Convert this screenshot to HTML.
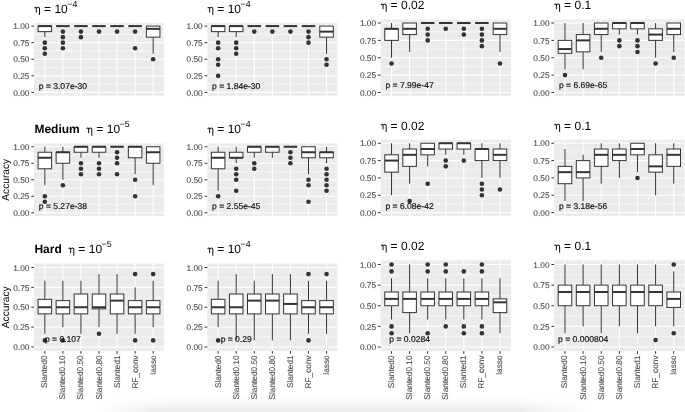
<!DOCTYPE html>
<html><head><meta charset="utf-8"><style>
html,body{margin:0;padding:0;background:#fff;}
body{width:685px;height:412px;overflow:hidden;position:relative;}
svg{display:block;position:absolute;left:0;top:0;will-change:transform;}
text{font-family:"Liberation Sans",sans-serif;text-rendering:geometricPrecision;}
.ax{font-size:8.3px;fill:#4D4D4D;stroke:#4D4D4D;stroke-width:0.12px;}
.pt{font-size:8.55px;fill:#111;stroke:#111;stroke-width:0.18px;}
.tt{font-size:12.0px;fill:#000;}
.tt.b{font-weight:bold;}
.tt.sup{font-size:8.8px;}
.yt{font-size:10.2px;fill:#000;}
.shade{position:absolute;left:0;top:396px;width:685px;height:16px;background:linear-gradient(to bottom, rgba(0,0,0,0) 0px, rgba(0,0,0,0.012) 4px, rgba(0,0,0,0.035) 8px, rgba(0,0,0,0.062) 12px, rgba(0,0,0,0.08) 14.5px, rgba(0,0,0,0.065) 16px);-webkit-mask-image:linear-gradient(to right, transparent 95px, #000 165px, #000 515px, transparent 595px);mask-image:linear-gradient(to right, transparent 95px, #000 165px, #000 515px, transparent 595px);}
</style></head><body>
<svg width="685" height="412" viewBox="0 0 685 412">
<rect x="34" y="22.78" width="130" height="72.93" fill="#EBEBEB"/>
<line x1="34" x2="164" y1="84.11" y2="84.11" stroke="#fff" stroke-width="0.55"/>
<line x1="34" x2="164" y1="67.54" y2="67.54" stroke="#fff" stroke-width="0.55"/>
<line x1="34" x2="164" y1="50.96" y2="50.96" stroke="#fff" stroke-width="0.55"/>
<line x1="34" x2="164" y1="34.39" y2="34.39" stroke="#fff" stroke-width="0.55"/>
<line x1="34" x2="164" y1="92.4" y2="92.4" stroke="#fff" stroke-width="1.1"/>
<line x1="34" x2="164" y1="75.83" y2="75.83" stroke="#fff" stroke-width="1.1"/>
<line x1="34" x2="164" y1="59.25" y2="59.25" stroke="#fff" stroke-width="1.1"/>
<line x1="34" x2="164" y1="42.67" y2="42.67" stroke="#fff" stroke-width="1.1"/>
<line x1="34" x2="164" y1="26.1" y2="26.1" stroke="#fff" stroke-width="1.1"/>
<line x1="44.83" x2="44.83" y1="22.78" y2="95.72" stroke="#fff" stroke-width="1.1"/>
<line x1="62.89" x2="62.89" y1="22.78" y2="95.72" stroke="#fff" stroke-width="1.1"/>
<line x1="80.94" x2="80.94" y1="22.78" y2="95.72" stroke="#fff" stroke-width="1.1"/>
<line x1="99" x2="99" y1="22.78" y2="95.72" stroke="#fff" stroke-width="1.1"/>
<line x1="117.06" x2="117.06" y1="22.78" y2="95.72" stroke="#fff" stroke-width="1.1"/>
<line x1="135.11" x2="135.11" y1="22.78" y2="95.72" stroke="#fff" stroke-width="1.1"/>
<line x1="153.17" x2="153.17" y1="22.78" y2="95.72" stroke="#fff" stroke-width="1.1"/>
<line x1="31.3" x2="34" y1="92.4" y2="92.4" stroke="#333333" stroke-width="1"/>
<text x="29.4" y="95.6" text-anchor="end" class="ax">0.00</text>
<line x1="31.3" x2="34" y1="75.83" y2="75.83" stroke="#333333" stroke-width="1"/>
<text x="29.4" y="79.03" text-anchor="end" class="ax">0.25</text>
<line x1="31.3" x2="34" y1="59.25" y2="59.25" stroke="#333333" stroke-width="1"/>
<text x="29.4" y="62.45" text-anchor="end" class="ax">0.50</text>
<line x1="31.3" x2="34" y1="42.67" y2="42.67" stroke="#333333" stroke-width="1"/>
<text x="29.4" y="45.88" text-anchor="end" class="ax">0.75</text>
<line x1="31.3" x2="34" y1="26.1" y2="26.1" stroke="#333333" stroke-width="1"/>
<text x="29.4" y="29.3" text-anchor="end" class="ax">1.00</text>
<line x1="44.83" x2="44.83" y1="31.62" y2="37.15" stroke="#333333" stroke-width="1.0"/>
<rect x="38.06" y="26.1" width="13.54" height="5.53" fill="#fff" stroke="#333333" stroke-width="1.0"/>
<line x1="38.06" x2="51.6" y1="26.1" y2="26.1" stroke="#333333" stroke-width="2.0"/>
<circle cx="44.83" cy="42.67" r="2.3" fill="#333333"/>
<circle cx="44.83" cy="48.2" r="2.3" fill="#333333"/>
<circle cx="44.83" cy="53.72" r="2.3" fill="#333333"/>
<rect x="56.12" y="26.1" width="13.54" height="0" fill="#fff" stroke="#333333" stroke-width="1.0"/>
<line x1="56.12" x2="69.66" y1="26.1" y2="26.1" stroke="#333333" stroke-width="2.0"/>
<circle cx="62.89" cy="31.62" r="2.3" fill="#333333"/>
<circle cx="62.89" cy="37.15" r="2.3" fill="#333333"/>
<circle cx="62.89" cy="42.67" r="2.3" fill="#333333"/>
<circle cx="62.89" cy="48.2" r="2.3" fill="#333333"/>
<rect x="74.17" y="26.1" width="13.54" height="0" fill="#fff" stroke="#333333" stroke-width="1.0"/>
<line x1="74.17" x2="87.72" y1="26.1" y2="26.1" stroke="#333333" stroke-width="2.0"/>
<circle cx="80.94" cy="31.62" r="2.3" fill="#333333"/>
<circle cx="80.94" cy="37.15" r="2.3" fill="#333333"/>
<rect x="92.23" y="26.1" width="13.54" height="0" fill="#fff" stroke="#333333" stroke-width="1.0"/>
<line x1="92.23" x2="105.77" y1="26.1" y2="26.1" stroke="#333333" stroke-width="2.0"/>
<circle cx="99" cy="31.62" r="2.3" fill="#333333"/>
<rect x="110.28" y="26.1" width="13.54" height="0" fill="#fff" stroke="#333333" stroke-width="1.0"/>
<line x1="110.28" x2="123.83" y1="26.1" y2="26.1" stroke="#333333" stroke-width="2.0"/>
<circle cx="117.06" cy="31.62" r="2.3" fill="#333333"/>
<rect x="128.34" y="26.1" width="13.54" height="0" fill="#fff" stroke="#333333" stroke-width="1.0"/>
<line x1="128.34" x2="141.88" y1="26.1" y2="26.1" stroke="#333333" stroke-width="2.0"/>
<circle cx="135.11" cy="31.62" r="2.3" fill="#333333"/>
<circle cx="135.11" cy="48.2" r="2.3" fill="#333333"/>
<line x1="153.17" x2="153.17" y1="37.15" y2="53.72" stroke="#333333" stroke-width="1.0"/>
<rect x="146.4" y="26.1" width="13.54" height="11.05" fill="#fff" stroke="#333333" stroke-width="1.0"/>
<line x1="146.4" x2="159.94" y1="28.86" y2="28.86" stroke="#333333" stroke-width="2.0"/>
<circle cx="153.17" cy="59.25" r="2.3" fill="#333333"/>
<text x="62.89" y="88.67" text-anchor="middle" class="pt">p = 3.07e-30</text>
<path d="M34.40,8.18 Q35.20,6.88 36.30,7.58 M36.30,7.38 L36.30,12.58 M36.30,8.68 C36.90,7.08 39.50,6.58 39.50,8.98 L39.50,14.98" fill="none" stroke="#1a1a1a" stroke-width="1.05"/>
<text x="43.9" y="12.58" class="tt">=</text>
<text x="54.4" y="12.58" class="tt">10</text>
<text x="67.25" y="6.58" class="tt sup">−4</text>
<rect x="207.3" y="22.78" width="130.1" height="72.93" fill="#EBEBEB"/>
<line x1="207.3" x2="337.4" y1="84.11" y2="84.11" stroke="#fff" stroke-width="0.55"/>
<line x1="207.3" x2="337.4" y1="67.54" y2="67.54" stroke="#fff" stroke-width="0.55"/>
<line x1="207.3" x2="337.4" y1="50.96" y2="50.96" stroke="#fff" stroke-width="0.55"/>
<line x1="207.3" x2="337.4" y1="34.39" y2="34.39" stroke="#fff" stroke-width="0.55"/>
<line x1="207.3" x2="337.4" y1="92.4" y2="92.4" stroke="#fff" stroke-width="1.1"/>
<line x1="207.3" x2="337.4" y1="75.83" y2="75.83" stroke="#fff" stroke-width="1.1"/>
<line x1="207.3" x2="337.4" y1="59.25" y2="59.25" stroke="#fff" stroke-width="1.1"/>
<line x1="207.3" x2="337.4" y1="42.67" y2="42.67" stroke="#fff" stroke-width="1.1"/>
<line x1="207.3" x2="337.4" y1="26.1" y2="26.1" stroke="#fff" stroke-width="1.1"/>
<line x1="218.14" x2="218.14" y1="22.78" y2="95.72" stroke="#fff" stroke-width="1.1"/>
<line x1="236.21" x2="236.21" y1="22.78" y2="95.72" stroke="#fff" stroke-width="1.1"/>
<line x1="254.28" x2="254.28" y1="22.78" y2="95.72" stroke="#fff" stroke-width="1.1"/>
<line x1="272.35" x2="272.35" y1="22.78" y2="95.72" stroke="#fff" stroke-width="1.1"/>
<line x1="290.42" x2="290.42" y1="22.78" y2="95.72" stroke="#fff" stroke-width="1.1"/>
<line x1="308.49" x2="308.49" y1="22.78" y2="95.72" stroke="#fff" stroke-width="1.1"/>
<line x1="326.56" x2="326.56" y1="22.78" y2="95.72" stroke="#fff" stroke-width="1.1"/>
<line x1="204.6" x2="207.3" y1="92.4" y2="92.4" stroke="#333333" stroke-width="1"/>
<text x="202.7" y="95.6" text-anchor="end" class="ax">0.00</text>
<line x1="204.6" x2="207.3" y1="75.83" y2="75.83" stroke="#333333" stroke-width="1"/>
<text x="202.7" y="79.03" text-anchor="end" class="ax">0.25</text>
<line x1="204.6" x2="207.3" y1="59.25" y2="59.25" stroke="#333333" stroke-width="1"/>
<text x="202.7" y="62.45" text-anchor="end" class="ax">0.50</text>
<line x1="204.6" x2="207.3" y1="42.67" y2="42.67" stroke="#333333" stroke-width="1"/>
<text x="202.7" y="45.88" text-anchor="end" class="ax">0.75</text>
<line x1="204.6" x2="207.3" y1="26.1" y2="26.1" stroke="#333333" stroke-width="1"/>
<text x="202.7" y="29.3" text-anchor="end" class="ax">1.00</text>
<line x1="218.14" x2="218.14" y1="31.62" y2="37.15" stroke="#333333" stroke-width="1.0"/>
<rect x="211.37" y="26.1" width="13.55" height="5.53" fill="#fff" stroke="#333333" stroke-width="1.0"/>
<line x1="211.37" x2="224.92" y1="26.1" y2="26.1" stroke="#333333" stroke-width="2.0"/>
<circle cx="218.14" cy="42.67" r="2.3" fill="#333333"/>
<circle cx="218.14" cy="48.2" r="2.3" fill="#333333"/>
<circle cx="218.14" cy="59.25" r="2.3" fill="#333333"/>
<circle cx="218.14" cy="64.78" r="2.3" fill="#333333"/>
<circle cx="218.14" cy="75.83" r="2.3" fill="#333333"/>
<line x1="236.21" x2="236.21" y1="31.62" y2="37.15" stroke="#333333" stroke-width="1.0"/>
<rect x="229.44" y="26.1" width="13.55" height="5.53" fill="#fff" stroke="#333333" stroke-width="1.0"/>
<line x1="229.44" x2="242.99" y1="26.1" y2="26.1" stroke="#333333" stroke-width="2.0"/>
<circle cx="236.21" cy="42.67" r="2.3" fill="#333333"/>
<circle cx="236.21" cy="48.2" r="2.3" fill="#333333"/>
<circle cx="236.21" cy="53.72" r="2.3" fill="#333333"/>
<rect x="247.5" y="26.1" width="13.55" height="0" fill="#fff" stroke="#333333" stroke-width="1.0"/>
<line x1="247.5" x2="261.06" y1="26.1" y2="26.1" stroke="#333333" stroke-width="2.0"/>
<circle cx="254.28" cy="31.62" r="2.3" fill="#333333"/>
<rect x="265.57" y="26.1" width="13.55" height="0" fill="#fff" stroke="#333333" stroke-width="1.0"/>
<line x1="265.57" x2="279.13" y1="26.1" y2="26.1" stroke="#333333" stroke-width="2.0"/>
<circle cx="272.35" cy="31.62" r="2.3" fill="#333333"/>
<rect x="283.64" y="26.1" width="13.55" height="0" fill="#fff" stroke="#333333" stroke-width="1.0"/>
<line x1="283.64" x2="297.2" y1="26.1" y2="26.1" stroke="#333333" stroke-width="2.0"/>
<circle cx="290.42" cy="31.62" r="2.3" fill="#333333"/>
<rect x="301.71" y="26.1" width="13.55" height="0" fill="#fff" stroke="#333333" stroke-width="1.0"/>
<line x1="301.71" x2="315.26" y1="26.1" y2="26.1" stroke="#333333" stroke-width="2.0"/>
<circle cx="308.49" cy="31.62" r="2.3" fill="#333333"/>
<circle cx="308.49" cy="37.15" r="2.3" fill="#333333"/>
<circle cx="308.49" cy="42.67" r="2.3" fill="#333333"/>
<line x1="326.56" x2="326.56" y1="37.15" y2="53.72" stroke="#333333" stroke-width="1.0"/>
<rect x="319.78" y="26.1" width="13.55" height="11.05" fill="#fff" stroke="#333333" stroke-width="1.0"/>
<line x1="319.78" x2="333.33" y1="31.62" y2="31.62" stroke="#333333" stroke-width="2.0"/>
<circle cx="326.56" cy="59.25" r="2.3" fill="#333333"/>
<circle cx="326.56" cy="64.78" r="2.3" fill="#333333"/>
<text x="236.21" y="88.67" text-anchor="middle" class="pt">p = 1.84e-30</text>
<path d="M207.70,8.18 Q208.50,6.88 209.60,7.58 M209.60,7.38 L209.60,12.58 M209.60,8.68 C210.20,7.08 212.80,6.58 212.80,8.98 L212.80,14.98" fill="none" stroke="#1a1a1a" stroke-width="1.05"/>
<text x="217.2" y="12.58" class="tt">=</text>
<text x="227.7" y="12.58" class="tt">10</text>
<text x="240.55" y="6.58" class="tt sup">−4</text>
<rect x="380.7" y="19.52" width="130.1" height="76.45" fill="#EBEBEB"/>
<line x1="380.7" x2="510.8" y1="83.81" y2="83.81" stroke="#fff" stroke-width="0.55"/>
<line x1="380.7" x2="510.8" y1="66.44" y2="66.44" stroke="#fff" stroke-width="0.55"/>
<line x1="380.7" x2="510.8" y1="49.06" y2="49.06" stroke="#fff" stroke-width="0.55"/>
<line x1="380.7" x2="510.8" y1="31.69" y2="31.69" stroke="#fff" stroke-width="0.55"/>
<line x1="380.7" x2="510.8" y1="92.5" y2="92.5" stroke="#fff" stroke-width="1.1"/>
<line x1="380.7" x2="510.8" y1="75.12" y2="75.12" stroke="#fff" stroke-width="1.1"/>
<line x1="380.7" x2="510.8" y1="57.75" y2="57.75" stroke="#fff" stroke-width="1.1"/>
<line x1="380.7" x2="510.8" y1="40.38" y2="40.38" stroke="#fff" stroke-width="1.1"/>
<line x1="380.7" x2="510.8" y1="23" y2="23" stroke="#fff" stroke-width="1.1"/>
<line x1="391.54" x2="391.54" y1="19.52" y2="95.97" stroke="#fff" stroke-width="1.1"/>
<line x1="409.61" x2="409.61" y1="19.52" y2="95.97" stroke="#fff" stroke-width="1.1"/>
<line x1="427.68" x2="427.68" y1="19.52" y2="95.97" stroke="#fff" stroke-width="1.1"/>
<line x1="445.75" x2="445.75" y1="19.52" y2="95.97" stroke="#fff" stroke-width="1.1"/>
<line x1="463.82" x2="463.82" y1="19.52" y2="95.97" stroke="#fff" stroke-width="1.1"/>
<line x1="481.89" x2="481.89" y1="19.52" y2="95.97" stroke="#fff" stroke-width="1.1"/>
<line x1="499.96" x2="499.96" y1="19.52" y2="95.97" stroke="#fff" stroke-width="1.1"/>
<line x1="378" x2="380.7" y1="92.5" y2="92.5" stroke="#333333" stroke-width="1"/>
<text x="376.1" y="95.7" text-anchor="end" class="ax">0.00</text>
<line x1="378" x2="380.7" y1="75.12" y2="75.12" stroke="#333333" stroke-width="1"/>
<text x="376.1" y="78.33" text-anchor="end" class="ax">0.25</text>
<line x1="378" x2="380.7" y1="57.75" y2="57.75" stroke="#333333" stroke-width="1"/>
<text x="376.1" y="60.95" text-anchor="end" class="ax">0.50</text>
<line x1="378" x2="380.7" y1="40.38" y2="40.38" stroke="#333333" stroke-width="1"/>
<text x="376.1" y="43.58" text-anchor="end" class="ax">0.75</text>
<line x1="378" x2="380.7" y1="23" y2="23" stroke="#333333" stroke-width="1"/>
<text x="376.1" y="26.2" text-anchor="end" class="ax">1.00</text>
<line x1="391.54" x2="391.54" y1="23" y2="28.79" stroke="#333333" stroke-width="1.0"/>
<line x1="391.54" x2="391.54" y1="40.38" y2="57.75" stroke="#333333" stroke-width="1.0"/>
<rect x="384.77" y="28.79" width="13.55" height="11.58" fill="#fff" stroke="#333333" stroke-width="1.0"/>
<line x1="384.77" x2="398.32" y1="28.79" y2="28.79" stroke="#333333" stroke-width="2.0"/>
<circle cx="391.54" cy="63.54" r="2.3" fill="#333333"/>
<line x1="409.61" x2="409.61" y1="34.58" y2="51.96" stroke="#333333" stroke-width="1.0"/>
<rect x="402.84" y="23" width="13.55" height="11.58" fill="#fff" stroke="#333333" stroke-width="1.0"/>
<line x1="402.84" x2="416.39" y1="28.79" y2="28.79" stroke="#333333" stroke-width="2.0"/>
<rect x="420.9" y="23" width="13.55" height="0" fill="#fff" stroke="#333333" stroke-width="1.0"/>
<line x1="420.9" x2="434.46" y1="23" y2="23" stroke="#333333" stroke-width="2.0"/>
<circle cx="427.68" cy="28.79" r="2.3" fill="#333333"/>
<circle cx="427.68" cy="34.58" r="2.3" fill="#333333"/>
<circle cx="427.68" cy="40.38" r="2.3" fill="#333333"/>
<rect x="438.97" y="23" width="13.55" height="0" fill="#fff" stroke="#333333" stroke-width="1.0"/>
<line x1="438.97" x2="452.53" y1="23" y2="23" stroke="#333333" stroke-width="2.0"/>
<circle cx="445.75" cy="28.79" r="2.3" fill="#333333"/>
<rect x="457.04" y="23" width="13.55" height="0" fill="#fff" stroke="#333333" stroke-width="1.0"/>
<line x1="457.04" x2="470.6" y1="23" y2="23" stroke="#333333" stroke-width="2.0"/>
<circle cx="463.82" cy="28.79" r="2.3" fill="#333333"/>
<circle cx="463.82" cy="34.58" r="2.3" fill="#333333"/>
<rect x="475.11" y="23" width="13.55" height="0" fill="#fff" stroke="#333333" stroke-width="1.0"/>
<line x1="475.11" x2="488.66" y1="23" y2="23" stroke="#333333" stroke-width="2.0"/>
<circle cx="481.89" cy="28.79" r="2.3" fill="#333333"/>
<circle cx="481.89" cy="34.58" r="2.3" fill="#333333"/>
<circle cx="481.89" cy="40.38" r="2.3" fill="#333333"/>
<circle cx="481.89" cy="46.17" r="2.3" fill="#333333"/>
<line x1="499.96" x2="499.96" y1="34.58" y2="51.96" stroke="#333333" stroke-width="1.0"/>
<rect x="493.18" y="23" width="13.55" height="11.58" fill="#fff" stroke="#333333" stroke-width="1.0"/>
<line x1="493.18" x2="506.73" y1="28.79" y2="28.79" stroke="#333333" stroke-width="2.0"/>
<circle cx="499.96" cy="63.54" r="2.3" fill="#333333"/>
<text x="409.61" y="88.45" text-anchor="middle" class="pt">p = 7.99e-47</text>
<path d="M381.10,4.92 Q381.90,3.62 383.00,4.32 M383.00,4.12 L383.00,9.32 M383.00,5.42 C383.60,3.82 386.20,3.32 386.20,5.72 L386.20,11.72" fill="none" stroke="#1a1a1a" stroke-width="1.05"/>
<text x="390.6" y="9.32" class="tt">=</text>
<text x="401.1" y="9.32" class="tt">0.02</text>
<rect x="554.1" y="19.52" width="130.5" height="76.45" fill="#EBEBEB"/>
<line x1="554.1" x2="684.6" y1="83.81" y2="83.81" stroke="#fff" stroke-width="0.55"/>
<line x1="554.1" x2="684.6" y1="66.44" y2="66.44" stroke="#fff" stroke-width="0.55"/>
<line x1="554.1" x2="684.6" y1="49.06" y2="49.06" stroke="#fff" stroke-width="0.55"/>
<line x1="554.1" x2="684.6" y1="31.69" y2="31.69" stroke="#fff" stroke-width="0.55"/>
<line x1="554.1" x2="684.6" y1="92.5" y2="92.5" stroke="#fff" stroke-width="1.1"/>
<line x1="554.1" x2="684.6" y1="75.12" y2="75.12" stroke="#fff" stroke-width="1.1"/>
<line x1="554.1" x2="684.6" y1="57.75" y2="57.75" stroke="#fff" stroke-width="1.1"/>
<line x1="554.1" x2="684.6" y1="40.38" y2="40.38" stroke="#fff" stroke-width="1.1"/>
<line x1="554.1" x2="684.6" y1="23" y2="23" stroke="#fff" stroke-width="1.1"/>
<line x1="564.98" x2="564.98" y1="19.52" y2="95.97" stroke="#fff" stroke-width="1.1"/>
<line x1="583.1" x2="583.1" y1="19.52" y2="95.97" stroke="#fff" stroke-width="1.1"/>
<line x1="601.23" x2="601.23" y1="19.52" y2="95.97" stroke="#fff" stroke-width="1.1"/>
<line x1="619.35" x2="619.35" y1="19.52" y2="95.97" stroke="#fff" stroke-width="1.1"/>
<line x1="637.48" x2="637.48" y1="19.52" y2="95.97" stroke="#fff" stroke-width="1.1"/>
<line x1="655.6" x2="655.6" y1="19.52" y2="95.97" stroke="#fff" stroke-width="1.1"/>
<line x1="673.73" x2="673.73" y1="19.52" y2="95.97" stroke="#fff" stroke-width="1.1"/>
<line x1="551.4" x2="554.1" y1="92.5" y2="92.5" stroke="#333333" stroke-width="1"/>
<text x="549.5" y="95.7" text-anchor="end" class="ax">0.00</text>
<line x1="551.4" x2="554.1" y1="75.12" y2="75.12" stroke="#333333" stroke-width="1"/>
<text x="549.5" y="78.33" text-anchor="end" class="ax">0.25</text>
<line x1="551.4" x2="554.1" y1="57.75" y2="57.75" stroke="#333333" stroke-width="1"/>
<text x="549.5" y="60.95" text-anchor="end" class="ax">0.50</text>
<line x1="551.4" x2="554.1" y1="40.38" y2="40.38" stroke="#333333" stroke-width="1"/>
<text x="549.5" y="43.58" text-anchor="end" class="ax">0.75</text>
<line x1="551.4" x2="554.1" y1="23" y2="23" stroke="#333333" stroke-width="1"/>
<text x="549.5" y="26.2" text-anchor="end" class="ax">1.00</text>
<line x1="564.98" x2="564.98" y1="23" y2="40.38" stroke="#333333" stroke-width="1.0"/>
<line x1="564.98" x2="564.98" y1="53.3" y2="69.33" stroke="#333333" stroke-width="1.0"/>
<rect x="558.18" y="40.38" width="13.59" height="12.93" fill="#fff" stroke="#333333" stroke-width="1.0"/>
<line x1="558.18" x2="571.77" y1="49.06" y2="49.06" stroke="#333333" stroke-width="2.0"/>
<circle cx="564.98" cy="75.12" r="2.3" fill="#333333"/>
<line x1="583.1" x2="583.1" y1="23" y2="34.58" stroke="#333333" stroke-width="1.0"/>
<line x1="583.1" x2="583.1" y1="51.84" y2="69.33" stroke="#333333" stroke-width="1.0"/>
<rect x="576.3" y="34.58" width="13.59" height="17.26" fill="#fff" stroke="#333333" stroke-width="1.0"/>
<line x1="576.3" x2="589.9" y1="40.38" y2="40.38" stroke="#333333" stroke-width="2.0"/>
<line x1="601.23" x2="601.23" y1="34.58" y2="51.96" stroke="#333333" stroke-width="1.0"/>
<rect x="594.43" y="23" width="13.59" height="11.58" fill="#fff" stroke="#333333" stroke-width="1.0"/>
<line x1="594.43" x2="608.02" y1="28.79" y2="28.79" stroke="#333333" stroke-width="2.0"/>
<circle cx="601.23" cy="57.75" r="2.3" fill="#333333"/>
<line x1="619.35" x2="619.35" y1="28.79" y2="34.58" stroke="#333333" stroke-width="1.0"/>
<rect x="612.55" y="23" width="13.59" height="5.79" fill="#fff" stroke="#333333" stroke-width="1.0"/>
<line x1="612.55" x2="626.15" y1="23" y2="23" stroke="#333333" stroke-width="2.0"/>
<circle cx="619.35" cy="40.38" r="2.3" fill="#333333"/>
<circle cx="619.35" cy="46.17" r="2.3" fill="#333333"/>
<line x1="637.48" x2="637.48" y1="28.79" y2="34.58" stroke="#333333" stroke-width="1.0"/>
<rect x="630.68" y="23" width="13.59" height="5.79" fill="#fff" stroke="#333333" stroke-width="1.0"/>
<line x1="630.68" x2="644.27" y1="23" y2="23" stroke="#333333" stroke-width="2.0"/>
<circle cx="637.48" cy="40.38" r="2.3" fill="#333333"/>
<circle cx="637.48" cy="46.17" r="2.3" fill="#333333"/>
<circle cx="637.48" cy="51.96" r="2.3" fill="#333333"/>
<line x1="655.6" x2="655.6" y1="23" y2="28.79" stroke="#333333" stroke-width="1.0"/>
<line x1="655.6" x2="655.6" y1="40.38" y2="57.75" stroke="#333333" stroke-width="1.0"/>
<rect x="648.8" y="28.79" width="13.59" height="11.58" fill="#fff" stroke="#333333" stroke-width="1.0"/>
<line x1="648.8" x2="662.4" y1="34.58" y2="34.58" stroke="#333333" stroke-width="2.0"/>
<circle cx="655.6" cy="63.54" r="2.3" fill="#333333"/>
<line x1="673.73" x2="673.73" y1="34.58" y2="51.96" stroke="#333333" stroke-width="1.0"/>
<rect x="666.93" y="23" width="13.59" height="11.58" fill="#fff" stroke="#333333" stroke-width="1.0"/>
<line x1="666.93" x2="680.52" y1="28.79" y2="28.79" stroke="#333333" stroke-width="2.0"/>
<circle cx="673.73" cy="57.75" r="2.3" fill="#333333"/>
<text x="583.1" y="88.45" text-anchor="middle" class="pt">p = 6.69e-65</text>
<path d="M554.50,4.92 Q555.30,3.62 556.40,4.32 M556.40,4.12 L556.40,9.32 M556.40,5.42 C557.00,3.82 559.60,3.32 559.60,5.72 L559.60,11.72" fill="none" stroke="#1a1a1a" stroke-width="1.05"/>
<text x="564" y="9.32" class="tt">=</text>
<text x="574.5" y="9.32" class="tt">0.1</text>
<rect x="34" y="143.45" width="130" height="72.6" fill="#EBEBEB"/>
<line x1="34" x2="164" y1="204.5" y2="204.5" stroke="#fff" stroke-width="0.55"/>
<line x1="34" x2="164" y1="188" y2="188" stroke="#fff" stroke-width="0.55"/>
<line x1="34" x2="164" y1="171.5" y2="171.5" stroke="#fff" stroke-width="0.55"/>
<line x1="34" x2="164" y1="155" y2="155" stroke="#fff" stroke-width="0.55"/>
<line x1="34" x2="164" y1="212.75" y2="212.75" stroke="#fff" stroke-width="1.1"/>
<line x1="34" x2="164" y1="196.25" y2="196.25" stroke="#fff" stroke-width="1.1"/>
<line x1="34" x2="164" y1="179.75" y2="179.75" stroke="#fff" stroke-width="1.1"/>
<line x1="34" x2="164" y1="163.25" y2="163.25" stroke="#fff" stroke-width="1.1"/>
<line x1="34" x2="164" y1="146.75" y2="146.75" stroke="#fff" stroke-width="1.1"/>
<line x1="44.83" x2="44.83" y1="143.45" y2="216.05" stroke="#fff" stroke-width="1.1"/>
<line x1="62.89" x2="62.89" y1="143.45" y2="216.05" stroke="#fff" stroke-width="1.1"/>
<line x1="80.94" x2="80.94" y1="143.45" y2="216.05" stroke="#fff" stroke-width="1.1"/>
<line x1="99" x2="99" y1="143.45" y2="216.05" stroke="#fff" stroke-width="1.1"/>
<line x1="117.06" x2="117.06" y1="143.45" y2="216.05" stroke="#fff" stroke-width="1.1"/>
<line x1="135.11" x2="135.11" y1="143.45" y2="216.05" stroke="#fff" stroke-width="1.1"/>
<line x1="153.17" x2="153.17" y1="143.45" y2="216.05" stroke="#fff" stroke-width="1.1"/>
<line x1="31.3" x2="34" y1="212.75" y2="212.75" stroke="#333333" stroke-width="1"/>
<text x="29.4" y="215.95" text-anchor="end" class="ax">0.00</text>
<line x1="31.3" x2="34" y1="196.25" y2="196.25" stroke="#333333" stroke-width="1"/>
<text x="29.4" y="199.45" text-anchor="end" class="ax">0.25</text>
<line x1="31.3" x2="34" y1="179.75" y2="179.75" stroke="#333333" stroke-width="1"/>
<text x="29.4" y="182.95" text-anchor="end" class="ax">0.50</text>
<line x1="31.3" x2="34" y1="163.25" y2="163.25" stroke="#333333" stroke-width="1"/>
<text x="29.4" y="166.45" text-anchor="end" class="ax">0.75</text>
<line x1="31.3" x2="34" y1="146.75" y2="146.75" stroke="#333333" stroke-width="1"/>
<text x="29.4" y="149.95" text-anchor="end" class="ax">1.00</text>
<line x1="44.83" x2="44.83" y1="146.75" y2="152.25" stroke="#333333" stroke-width="1.0"/>
<line x1="44.83" x2="44.83" y1="168.75" y2="185.25" stroke="#333333" stroke-width="1.0"/>
<rect x="38.06" y="152.25" width="13.54" height="16.5" fill="#fff" stroke="#333333" stroke-width="1.0"/>
<line x1="38.06" x2="51.6" y1="157.75" y2="157.75" stroke="#333333" stroke-width="2.0"/>
<circle cx="44.83" cy="196.25" r="2.3" fill="#333333"/>
<circle cx="44.83" cy="201.75" r="2.3" fill="#333333"/>
<line x1="62.89" x2="62.89" y1="146.75" y2="152.25" stroke="#333333" stroke-width="1.0"/>
<line x1="62.89" x2="62.89" y1="163.25" y2="179.75" stroke="#333333" stroke-width="1.0"/>
<rect x="56.12" y="152.25" width="13.54" height="11" fill="#fff" stroke="#333333" stroke-width="1.0"/>
<line x1="56.12" x2="69.66" y1="152.25" y2="152.25" stroke="#333333" stroke-width="2.0"/>
<circle cx="62.89" cy="185.25" r="2.3" fill="#333333"/>
<line x1="80.94" x2="80.94" y1="152.25" y2="157.75" stroke="#333333" stroke-width="1.0"/>
<rect x="74.17" y="146.75" width="13.54" height="5.5" fill="#fff" stroke="#333333" stroke-width="1.0"/>
<line x1="74.17" x2="87.72" y1="146.75" y2="146.75" stroke="#333333" stroke-width="2.0"/>
<circle cx="80.94" cy="163.25" r="2.3" fill="#333333"/>
<circle cx="80.94" cy="168.75" r="2.3" fill="#333333"/>
<circle cx="80.94" cy="174.25" r="2.3" fill="#333333"/>
<line x1="99" x2="99" y1="152.25" y2="157.75" stroke="#333333" stroke-width="1.0"/>
<rect x="92.23" y="146.75" width="13.54" height="5.5" fill="#fff" stroke="#333333" stroke-width="1.0"/>
<line x1="92.23" x2="105.77" y1="146.75" y2="146.75" stroke="#333333" stroke-width="2.0"/>
<circle cx="99" cy="163.25" r="2.3" fill="#333333"/>
<circle cx="99" cy="168.75" r="2.3" fill="#333333"/>
<circle cx="99" cy="174.25" r="2.3" fill="#333333"/>
<rect x="110.28" y="146.75" width="13.54" height="0" fill="#fff" stroke="#333333" stroke-width="1.0"/>
<line x1="110.28" x2="123.83" y1="146.75" y2="146.75" stroke="#333333" stroke-width="2.0"/>
<circle cx="117.06" cy="152.25" r="2.3" fill="#333333"/>
<circle cx="117.06" cy="157.75" r="2.3" fill="#333333"/>
<circle cx="117.06" cy="163.25" r="2.3" fill="#333333"/>
<circle cx="117.06" cy="174.25" r="2.3" fill="#333333"/>
<line x1="135.11" x2="135.11" y1="157.75" y2="174.25" stroke="#333333" stroke-width="1.0"/>
<rect x="128.34" y="146.75" width="13.54" height="11" fill="#fff" stroke="#333333" stroke-width="1.0"/>
<line x1="128.34" x2="141.88" y1="146.75" y2="146.75" stroke="#333333" stroke-width="2.0"/>
<circle cx="135.11" cy="179.75" r="2.3" fill="#333333"/>
<circle cx="135.11" cy="196.25" r="2.3" fill="#333333"/>
<line x1="153.17" x2="153.17" y1="163.25" y2="185.25" stroke="#333333" stroke-width="1.0"/>
<rect x="146.4" y="146.75" width="13.54" height="16.5" fill="#fff" stroke="#333333" stroke-width="1.0"/>
<line x1="146.4" x2="159.94" y1="152.25" y2="152.25" stroke="#333333" stroke-width="2.0"/>
<text x="62.89" y="209.05" text-anchor="middle" class="pt">p = 5.27e-38</text>
<text transform="translate(8.5,179.75) rotate(-90)" text-anchor="middle" class="yt">Accuracy</text>
<text x="34.4" y="133.25" class="tt b">Medium</text>
<path d="M86.73,128.85 Q87.53,127.55 88.63,128.25 M88.63,128.05 L88.63,133.25 M88.63,129.35 C89.23,127.75 91.83,127.25 91.83,129.65 L91.83,135.65" fill="none" stroke="#1a1a1a" stroke-width="1.05"/>
<text x="96.23" y="133.25" class="tt">=</text>
<text x="106.73" y="133.25" class="tt">10</text>
<text x="119.58" y="127.25" class="tt sup">−5</text>
<rect x="207.3" y="143.45" width="130.1" height="72.6" fill="#EBEBEB"/>
<line x1="207.3" x2="337.4" y1="204.5" y2="204.5" stroke="#fff" stroke-width="0.55"/>
<line x1="207.3" x2="337.4" y1="188" y2="188" stroke="#fff" stroke-width="0.55"/>
<line x1="207.3" x2="337.4" y1="171.5" y2="171.5" stroke="#fff" stroke-width="0.55"/>
<line x1="207.3" x2="337.4" y1="155" y2="155" stroke="#fff" stroke-width="0.55"/>
<line x1="207.3" x2="337.4" y1="212.75" y2="212.75" stroke="#fff" stroke-width="1.1"/>
<line x1="207.3" x2="337.4" y1="196.25" y2="196.25" stroke="#fff" stroke-width="1.1"/>
<line x1="207.3" x2="337.4" y1="179.75" y2="179.75" stroke="#fff" stroke-width="1.1"/>
<line x1="207.3" x2="337.4" y1="163.25" y2="163.25" stroke="#fff" stroke-width="1.1"/>
<line x1="207.3" x2="337.4" y1="146.75" y2="146.75" stroke="#fff" stroke-width="1.1"/>
<line x1="218.14" x2="218.14" y1="143.45" y2="216.05" stroke="#fff" stroke-width="1.1"/>
<line x1="236.21" x2="236.21" y1="143.45" y2="216.05" stroke="#fff" stroke-width="1.1"/>
<line x1="254.28" x2="254.28" y1="143.45" y2="216.05" stroke="#fff" stroke-width="1.1"/>
<line x1="272.35" x2="272.35" y1="143.45" y2="216.05" stroke="#fff" stroke-width="1.1"/>
<line x1="290.42" x2="290.42" y1="143.45" y2="216.05" stroke="#fff" stroke-width="1.1"/>
<line x1="308.49" x2="308.49" y1="143.45" y2="216.05" stroke="#fff" stroke-width="1.1"/>
<line x1="326.56" x2="326.56" y1="143.45" y2="216.05" stroke="#fff" stroke-width="1.1"/>
<line x1="204.6" x2="207.3" y1="212.75" y2="212.75" stroke="#333333" stroke-width="1"/>
<text x="202.7" y="215.95" text-anchor="end" class="ax">0.00</text>
<line x1="204.6" x2="207.3" y1="196.25" y2="196.25" stroke="#333333" stroke-width="1"/>
<text x="202.7" y="199.45" text-anchor="end" class="ax">0.25</text>
<line x1="204.6" x2="207.3" y1="179.75" y2="179.75" stroke="#333333" stroke-width="1"/>
<text x="202.7" y="182.95" text-anchor="end" class="ax">0.50</text>
<line x1="204.6" x2="207.3" y1="163.25" y2="163.25" stroke="#333333" stroke-width="1"/>
<text x="202.7" y="166.45" text-anchor="end" class="ax">0.75</text>
<line x1="204.6" x2="207.3" y1="146.75" y2="146.75" stroke="#333333" stroke-width="1"/>
<text x="202.7" y="149.95" text-anchor="end" class="ax">1.00</text>
<line x1="218.14" x2="218.14" y1="146.75" y2="152.25" stroke="#333333" stroke-width="1.0"/>
<line x1="218.14" x2="218.14" y1="168.75" y2="190.75" stroke="#333333" stroke-width="1.0"/>
<rect x="211.37" y="152.25" width="13.55" height="16.5" fill="#fff" stroke="#333333" stroke-width="1.0"/>
<line x1="211.37" x2="224.92" y1="157.75" y2="157.75" stroke="#333333" stroke-width="2.0"/>
<circle cx="218.14" cy="196.25" r="2.3" fill="#333333"/>
<line x1="236.21" x2="236.21" y1="146.75" y2="152.25" stroke="#333333" stroke-width="1.0"/>
<line x1="236.21" x2="236.21" y1="157.75" y2="163.25" stroke="#333333" stroke-width="1.0"/>
<rect x="229.44" y="152.25" width="13.55" height="5.5" fill="#fff" stroke="#333333" stroke-width="1.0"/>
<line x1="229.44" x2="242.99" y1="157.75" y2="157.75" stroke="#333333" stroke-width="2.0"/>
<circle cx="236.21" cy="168.75" r="2.3" fill="#333333"/>
<circle cx="236.21" cy="174.25" r="2.3" fill="#333333"/>
<circle cx="236.21" cy="179.75" r="2.3" fill="#333333"/>
<circle cx="236.21" cy="190.75" r="2.3" fill="#333333"/>
<line x1="254.28" x2="254.28" y1="152.25" y2="157.75" stroke="#333333" stroke-width="1.0"/>
<rect x="247.5" y="146.75" width="13.55" height="5.5" fill="#fff" stroke="#333333" stroke-width="1.0"/>
<line x1="247.5" x2="261.06" y1="146.75" y2="146.75" stroke="#333333" stroke-width="2.0"/>
<circle cx="254.28" cy="163.25" r="2.3" fill="#333333"/>
<circle cx="254.28" cy="168.75" r="2.3" fill="#333333"/>
<line x1="272.35" x2="272.35" y1="152.25" y2="157.75" stroke="#333333" stroke-width="1.0"/>
<rect x="265.57" y="146.75" width="13.55" height="5.5" fill="#fff" stroke="#333333" stroke-width="1.0"/>
<line x1="265.57" x2="279.13" y1="146.75" y2="146.75" stroke="#333333" stroke-width="2.0"/>
<rect x="283.64" y="146.75" width="13.55" height="0" fill="#fff" stroke="#333333" stroke-width="1.0"/>
<line x1="283.64" x2="297.2" y1="146.75" y2="146.75" stroke="#333333" stroke-width="2.0"/>
<circle cx="290.42" cy="152.25" r="2.3" fill="#333333"/>
<circle cx="290.42" cy="157.75" r="2.3" fill="#333333"/>
<circle cx="290.42" cy="163.25" r="2.3" fill="#333333"/>
<line x1="308.49" x2="308.49" y1="157.75" y2="174.25" stroke="#333333" stroke-width="1.0"/>
<rect x="301.71" y="146.75" width="13.55" height="11" fill="#fff" stroke="#333333" stroke-width="1.0"/>
<line x1="301.71" x2="315.26" y1="152.25" y2="152.25" stroke="#333333" stroke-width="2.0"/>
<circle cx="308.49" cy="179.75" r="2.3" fill="#333333"/>
<circle cx="308.49" cy="185.25" r="2.3" fill="#333333"/>
<circle cx="308.49" cy="201.75" r="2.3" fill="#333333"/>
<line x1="326.56" x2="326.56" y1="146.75" y2="152.25" stroke="#333333" stroke-width="1.0"/>
<line x1="326.56" x2="326.56" y1="157.75" y2="163.25" stroke="#333333" stroke-width="1.0"/>
<rect x="319.78" y="152.25" width="13.55" height="5.5" fill="#fff" stroke="#333333" stroke-width="1.0"/>
<line x1="319.78" x2="333.33" y1="152.25" y2="152.25" stroke="#333333" stroke-width="2.0"/>
<circle cx="326.56" cy="168.75" r="2.3" fill="#333333"/>
<circle cx="326.56" cy="174.25" r="2.3" fill="#333333"/>
<circle cx="326.56" cy="179.75" r="2.3" fill="#333333"/>
<circle cx="326.56" cy="185.25" r="2.3" fill="#333333"/>
<circle cx="326.56" cy="190.75" r="2.3" fill="#333333"/>
<text x="236.21" y="209.05" text-anchor="middle" class="pt">p = 2.55e-45</text>
<path d="M207.70,128.85 Q208.50,127.55 209.60,128.25 M209.60,128.05 L209.60,133.25 M209.60,129.35 C210.20,127.75 212.80,127.25 212.80,129.65 L212.80,135.65" fill="none" stroke="#1a1a1a" stroke-width="1.05"/>
<text x="217.2" y="133.25" class="tt">=</text>
<text x="227.7" y="133.25" class="tt">10</text>
<text x="240.55" y="127.25" class="tt sup">−4</text>
<rect x="380.7" y="139.78" width="130.1" height="76.28" fill="#EBEBEB"/>
<line x1="380.7" x2="510.8" y1="203.93" y2="203.93" stroke="#fff" stroke-width="0.55"/>
<line x1="380.7" x2="510.8" y1="186.59" y2="186.59" stroke="#fff" stroke-width="0.55"/>
<line x1="380.7" x2="510.8" y1="169.26" y2="169.26" stroke="#fff" stroke-width="0.55"/>
<line x1="380.7" x2="510.8" y1="151.92" y2="151.92" stroke="#fff" stroke-width="0.55"/>
<line x1="380.7" x2="510.8" y1="212.6" y2="212.6" stroke="#fff" stroke-width="1.1"/>
<line x1="380.7" x2="510.8" y1="195.26" y2="195.26" stroke="#fff" stroke-width="1.1"/>
<line x1="380.7" x2="510.8" y1="177.93" y2="177.93" stroke="#fff" stroke-width="1.1"/>
<line x1="380.7" x2="510.8" y1="160.59" y2="160.59" stroke="#fff" stroke-width="1.1"/>
<line x1="380.7" x2="510.8" y1="143.25" y2="143.25" stroke="#fff" stroke-width="1.1"/>
<line x1="391.54" x2="391.54" y1="139.78" y2="216.07" stroke="#fff" stroke-width="1.1"/>
<line x1="409.61" x2="409.61" y1="139.78" y2="216.07" stroke="#fff" stroke-width="1.1"/>
<line x1="427.68" x2="427.68" y1="139.78" y2="216.07" stroke="#fff" stroke-width="1.1"/>
<line x1="445.75" x2="445.75" y1="139.78" y2="216.07" stroke="#fff" stroke-width="1.1"/>
<line x1="463.82" x2="463.82" y1="139.78" y2="216.07" stroke="#fff" stroke-width="1.1"/>
<line x1="481.89" x2="481.89" y1="139.78" y2="216.07" stroke="#fff" stroke-width="1.1"/>
<line x1="499.96" x2="499.96" y1="139.78" y2="216.07" stroke="#fff" stroke-width="1.1"/>
<line x1="378" x2="380.7" y1="212.6" y2="212.6" stroke="#333333" stroke-width="1"/>
<text x="376.1" y="215.8" text-anchor="end" class="ax">0.00</text>
<line x1="378" x2="380.7" y1="195.26" y2="195.26" stroke="#333333" stroke-width="1"/>
<text x="376.1" y="198.46" text-anchor="end" class="ax">0.25</text>
<line x1="378" x2="380.7" y1="177.93" y2="177.93" stroke="#333333" stroke-width="1"/>
<text x="376.1" y="181.12" text-anchor="end" class="ax">0.50</text>
<line x1="378" x2="380.7" y1="160.59" y2="160.59" stroke="#333333" stroke-width="1"/>
<text x="376.1" y="163.79" text-anchor="end" class="ax">0.75</text>
<line x1="378" x2="380.7" y1="143.25" y2="143.25" stroke="#333333" stroke-width="1"/>
<text x="376.1" y="146.45" text-anchor="end" class="ax">1.00</text>
<line x1="391.54" x2="391.54" y1="143.25" y2="154.81" stroke="#333333" stroke-width="1.0"/>
<line x1="391.54" x2="391.54" y1="172.15" y2="195.26" stroke="#333333" stroke-width="1.0"/>
<rect x="384.77" y="154.81" width="13.55" height="17.34" fill="#fff" stroke="#333333" stroke-width="1.0"/>
<line x1="384.77" x2="398.32" y1="160.59" y2="160.59" stroke="#333333" stroke-width="2.0"/>
<line x1="409.61" x2="409.61" y1="143.25" y2="149.03" stroke="#333333" stroke-width="1.0"/>
<line x1="409.61" x2="409.61" y1="166.37" y2="183.7" stroke="#333333" stroke-width="1.0"/>
<rect x="402.84" y="149.03" width="13.55" height="17.34" fill="#fff" stroke="#333333" stroke-width="1.0"/>
<line x1="402.84" x2="416.39" y1="154.81" y2="154.81" stroke="#333333" stroke-width="2.0"/>
<circle cx="409.61" cy="201.04" r="2.3" fill="#333333"/>
<line x1="427.68" x2="427.68" y1="154.81" y2="166.37" stroke="#333333" stroke-width="1.0"/>
<rect x="420.9" y="143.25" width="13.55" height="11.56" fill="#fff" stroke="#333333" stroke-width="1.0"/>
<line x1="420.9" x2="434.46" y1="149.03" y2="149.03" stroke="#333333" stroke-width="2.0"/>
<circle cx="427.68" cy="183.7" r="2.3" fill="#333333"/>
<line x1="445.75" x2="445.75" y1="149.03" y2="154.81" stroke="#333333" stroke-width="1.0"/>
<rect x="438.97" y="143.25" width="13.55" height="5.78" fill="#fff" stroke="#333333" stroke-width="1.0"/>
<line x1="438.97" x2="452.53" y1="143.25" y2="143.25" stroke="#333333" stroke-width="2.0"/>
<circle cx="445.75" cy="160.59" r="2.3" fill="#333333"/>
<circle cx="445.75" cy="166.37" r="2.3" fill="#333333"/>
<line x1="463.82" x2="463.82" y1="149.03" y2="154.81" stroke="#333333" stroke-width="1.0"/>
<rect x="457.04" y="143.25" width="13.55" height="5.78" fill="#fff" stroke="#333333" stroke-width="1.0"/>
<line x1="457.04" x2="470.6" y1="143.25" y2="143.25" stroke="#333333" stroke-width="2.0"/>
<circle cx="463.82" cy="160.59" r="2.3" fill="#333333"/>
<line x1="481.89" x2="481.89" y1="143.25" y2="149.03" stroke="#333333" stroke-width="1.0"/>
<line x1="481.89" x2="481.89" y1="160.59" y2="177.93" stroke="#333333" stroke-width="1.0"/>
<rect x="475.11" y="149.03" width="13.55" height="11.56" fill="#fff" stroke="#333333" stroke-width="1.0"/>
<line x1="475.11" x2="488.66" y1="149.03" y2="149.03" stroke="#333333" stroke-width="2.0"/>
<circle cx="481.89" cy="183.7" r="2.3" fill="#333333"/>
<circle cx="481.89" cy="189.48" r="2.3" fill="#333333"/>
<circle cx="481.89" cy="195.26" r="2.3" fill="#333333"/>
<line x1="499.96" x2="499.96" y1="143.25" y2="149.03" stroke="#333333" stroke-width="1.0"/>
<line x1="499.96" x2="499.96" y1="160.59" y2="177.93" stroke="#333333" stroke-width="1.0"/>
<rect x="493.18" y="149.03" width="13.55" height="11.56" fill="#fff" stroke="#333333" stroke-width="1.0"/>
<line x1="493.18" x2="506.73" y1="154.81" y2="154.81" stroke="#333333" stroke-width="2.0"/>
<circle cx="499.96" cy="189.48" r="2.3" fill="#333333"/>
<text x="409.61" y="208.56" text-anchor="middle" class="pt">p = 6.08e-42</text>
<path d="M381.10,125.18 Q381.90,123.88 383.00,124.58 M383.00,124.38 L383.00,129.58 M383.00,125.68 C383.60,124.08 386.20,123.58 386.20,125.98 L386.20,131.98" fill="none" stroke="#1a1a1a" stroke-width="1.05"/>
<text x="390.6" y="129.58" class="tt">=</text>
<text x="401.1" y="129.58" class="tt">0.02</text>
<rect x="554.1" y="139.78" width="130.5" height="76.28" fill="#EBEBEB"/>
<line x1="554.1" x2="684.6" y1="203.93" y2="203.93" stroke="#fff" stroke-width="0.55"/>
<line x1="554.1" x2="684.6" y1="186.59" y2="186.59" stroke="#fff" stroke-width="0.55"/>
<line x1="554.1" x2="684.6" y1="169.26" y2="169.26" stroke="#fff" stroke-width="0.55"/>
<line x1="554.1" x2="684.6" y1="151.92" y2="151.92" stroke="#fff" stroke-width="0.55"/>
<line x1="554.1" x2="684.6" y1="212.6" y2="212.6" stroke="#fff" stroke-width="1.1"/>
<line x1="554.1" x2="684.6" y1="195.26" y2="195.26" stroke="#fff" stroke-width="1.1"/>
<line x1="554.1" x2="684.6" y1="177.93" y2="177.93" stroke="#fff" stroke-width="1.1"/>
<line x1="554.1" x2="684.6" y1="160.59" y2="160.59" stroke="#fff" stroke-width="1.1"/>
<line x1="554.1" x2="684.6" y1="143.25" y2="143.25" stroke="#fff" stroke-width="1.1"/>
<line x1="564.98" x2="564.98" y1="139.78" y2="216.07" stroke="#fff" stroke-width="1.1"/>
<line x1="583.1" x2="583.1" y1="139.78" y2="216.07" stroke="#fff" stroke-width="1.1"/>
<line x1="601.23" x2="601.23" y1="139.78" y2="216.07" stroke="#fff" stroke-width="1.1"/>
<line x1="619.35" x2="619.35" y1="139.78" y2="216.07" stroke="#fff" stroke-width="1.1"/>
<line x1="637.48" x2="637.48" y1="139.78" y2="216.07" stroke="#fff" stroke-width="1.1"/>
<line x1="655.6" x2="655.6" y1="139.78" y2="216.07" stroke="#fff" stroke-width="1.1"/>
<line x1="673.73" x2="673.73" y1="139.78" y2="216.07" stroke="#fff" stroke-width="1.1"/>
<line x1="551.4" x2="554.1" y1="212.6" y2="212.6" stroke="#333333" stroke-width="1"/>
<text x="549.5" y="215.8" text-anchor="end" class="ax">0.00</text>
<line x1="551.4" x2="554.1" y1="195.26" y2="195.26" stroke="#333333" stroke-width="1"/>
<text x="549.5" y="198.46" text-anchor="end" class="ax">0.25</text>
<line x1="551.4" x2="554.1" y1="177.93" y2="177.93" stroke="#333333" stroke-width="1"/>
<text x="549.5" y="181.12" text-anchor="end" class="ax">0.50</text>
<line x1="551.4" x2="554.1" y1="160.59" y2="160.59" stroke="#333333" stroke-width="1"/>
<text x="549.5" y="163.79" text-anchor="end" class="ax">0.75</text>
<line x1="551.4" x2="554.1" y1="143.25" y2="143.25" stroke="#333333" stroke-width="1"/>
<text x="549.5" y="146.45" text-anchor="end" class="ax">1.00</text>
<line x1="564.98" x2="564.98" y1="149.03" y2="166.37" stroke="#333333" stroke-width="1.0"/>
<line x1="564.98" x2="564.98" y1="183.7" y2="201.04" stroke="#333333" stroke-width="1.0"/>
<rect x="558.18" y="166.37" width="13.59" height="17.34" fill="#fff" stroke="#333333" stroke-width="1.0"/>
<line x1="558.18" x2="571.77" y1="172.15" y2="172.15" stroke="#333333" stroke-width="2.0"/>
<line x1="583.1" x2="583.1" y1="154.81" y2="160.59" stroke="#333333" stroke-width="1.0"/>
<line x1="583.1" x2="583.1" y1="177.93" y2="201.04" stroke="#333333" stroke-width="1.0"/>
<rect x="576.3" y="160.59" width="13.59" height="17.34" fill="#fff" stroke="#333333" stroke-width="1.0"/>
<line x1="576.3" x2="589.9" y1="172.15" y2="172.15" stroke="#333333" stroke-width="2.0"/>
<line x1="601.23" x2="601.23" y1="143.25" y2="149.03" stroke="#333333" stroke-width="1.0"/>
<line x1="601.23" x2="601.23" y1="166.37" y2="183.7" stroke="#333333" stroke-width="1.0"/>
<rect x="594.43" y="149.03" width="13.59" height="17.34" fill="#fff" stroke="#333333" stroke-width="1.0"/>
<line x1="594.43" x2="608.02" y1="154.81" y2="154.81" stroke="#333333" stroke-width="2.0"/>
<line x1="619.35" x2="619.35" y1="143.25" y2="149.03" stroke="#333333" stroke-width="1.0"/>
<line x1="619.35" x2="619.35" y1="160.59" y2="177.93" stroke="#333333" stroke-width="1.0"/>
<rect x="612.55" y="149.03" width="13.59" height="11.56" fill="#fff" stroke="#333333" stroke-width="1.0"/>
<line x1="612.55" x2="626.15" y1="154.81" y2="154.81" stroke="#333333" stroke-width="2.0"/>
<line x1="637.48" x2="637.48" y1="154.81" y2="172.15" stroke="#333333" stroke-width="1.0"/>
<rect x="630.68" y="143.25" width="13.59" height="11.56" fill="#fff" stroke="#333333" stroke-width="1.0"/>
<line x1="630.68" x2="644.27" y1="149.03" y2="149.03" stroke="#333333" stroke-width="2.0"/>
<circle cx="637.48" cy="177.93" r="2.3" fill="#333333"/>
<line x1="655.6" x2="655.6" y1="143.25" y2="154.81" stroke="#333333" stroke-width="1.0"/>
<line x1="655.6" x2="655.6" y1="172.15" y2="195.26" stroke="#333333" stroke-width="1.0"/>
<rect x="648.8" y="154.81" width="13.59" height="17.34" fill="#fff" stroke="#333333" stroke-width="1.0"/>
<line x1="648.8" x2="662.4" y1="166.37" y2="166.37" stroke="#333333" stroke-width="2.0"/>
<line x1="673.73" x2="673.73" y1="143.25" y2="149.03" stroke="#333333" stroke-width="1.0"/>
<line x1="673.73" x2="673.73" y1="166.37" y2="183.7" stroke="#333333" stroke-width="1.0"/>
<rect x="666.93" y="149.03" width="13.59" height="17.34" fill="#fff" stroke="#333333" stroke-width="1.0"/>
<line x1="666.93" x2="680.52" y1="154.81" y2="154.81" stroke="#333333" stroke-width="2.0"/>
<text x="583.1" y="208.56" text-anchor="middle" class="pt">p = 3.18e-56</text>
<path d="M554.50,125.18 Q555.30,123.88 556.40,124.58 M556.40,124.38 L556.40,129.58 M556.40,125.68 C557.00,124.08 559.60,123.58 559.60,125.98 L559.60,131.98" fill="none" stroke="#1a1a1a" stroke-width="1.05"/>
<text x="564" y="129.58" class="tt">=</text>
<text x="574.5" y="129.58" class="tt">0.1</text>
<rect x="34" y="263.52" width="130" height="87.45" fill="#EBEBEB"/>
<line x1="34" x2="164" y1="337.06" y2="337.06" stroke="#fff" stroke-width="0.55"/>
<line x1="34" x2="164" y1="317.19" y2="317.19" stroke="#fff" stroke-width="0.55"/>
<line x1="34" x2="164" y1="297.31" y2="297.31" stroke="#fff" stroke-width="0.55"/>
<line x1="34" x2="164" y1="277.44" y2="277.44" stroke="#fff" stroke-width="0.55"/>
<line x1="34" x2="164" y1="347" y2="347" stroke="#fff" stroke-width="1.1"/>
<line x1="34" x2="164" y1="327.12" y2="327.12" stroke="#fff" stroke-width="1.1"/>
<line x1="34" x2="164" y1="307.25" y2="307.25" stroke="#fff" stroke-width="1.1"/>
<line x1="34" x2="164" y1="287.38" y2="287.38" stroke="#fff" stroke-width="1.1"/>
<line x1="34" x2="164" y1="267.5" y2="267.5" stroke="#fff" stroke-width="1.1"/>
<line x1="44.83" x2="44.83" y1="263.52" y2="350.98" stroke="#fff" stroke-width="1.1"/>
<line x1="62.89" x2="62.89" y1="263.52" y2="350.98" stroke="#fff" stroke-width="1.1"/>
<line x1="80.94" x2="80.94" y1="263.52" y2="350.98" stroke="#fff" stroke-width="1.1"/>
<line x1="99" x2="99" y1="263.52" y2="350.98" stroke="#fff" stroke-width="1.1"/>
<line x1="117.06" x2="117.06" y1="263.52" y2="350.98" stroke="#fff" stroke-width="1.1"/>
<line x1="135.11" x2="135.11" y1="263.52" y2="350.98" stroke="#fff" stroke-width="1.1"/>
<line x1="153.17" x2="153.17" y1="263.52" y2="350.98" stroke="#fff" stroke-width="1.1"/>
<line x1="31.3" x2="34" y1="347" y2="347" stroke="#333333" stroke-width="1"/>
<text x="29.4" y="350.2" text-anchor="end" class="ax">0.00</text>
<line x1="31.3" x2="34" y1="327.12" y2="327.12" stroke="#333333" stroke-width="1"/>
<text x="29.4" y="330.32" text-anchor="end" class="ax">0.25</text>
<line x1="31.3" x2="34" y1="307.25" y2="307.25" stroke="#333333" stroke-width="1"/>
<text x="29.4" y="310.45" text-anchor="end" class="ax">0.50</text>
<line x1="31.3" x2="34" y1="287.38" y2="287.38" stroke="#333333" stroke-width="1"/>
<text x="29.4" y="290.57" text-anchor="end" class="ax">0.75</text>
<line x1="31.3" x2="34" y1="267.5" y2="267.5" stroke="#333333" stroke-width="1"/>
<text x="29.4" y="270.7" text-anchor="end" class="ax">1.00</text>
<line x1="44.83" x2="44.83" y1="350.98" y2="353.68" stroke="#333333" stroke-width="1"/>
<line x1="62.89" x2="62.89" y1="350.98" y2="353.68" stroke="#333333" stroke-width="1"/>
<line x1="80.94" x2="80.94" y1="350.98" y2="353.68" stroke="#333333" stroke-width="1"/>
<line x1="99" x2="99" y1="350.98" y2="353.68" stroke="#333333" stroke-width="1"/>
<line x1="117.06" x2="117.06" y1="350.98" y2="353.68" stroke="#333333" stroke-width="1"/>
<line x1="135.11" x2="135.11" y1="350.98" y2="353.68" stroke="#333333" stroke-width="1"/>
<line x1="153.17" x2="153.17" y1="350.98" y2="353.68" stroke="#333333" stroke-width="1"/>
<line x1="44.83" x2="44.83" y1="280.75" y2="299.3" stroke="#333333" stroke-width="1.0"/>
<line x1="44.83" x2="44.83" y1="313.88" y2="333.75" stroke="#333333" stroke-width="1.0"/>
<rect x="38.06" y="299.3" width="13.54" height="14.57" fill="#fff" stroke="#333333" stroke-width="1.0"/>
<line x1="38.06" x2="51.6" y1="307.25" y2="307.25" stroke="#333333" stroke-width="2.0"/>
<circle cx="44.83" cy="340.38" r="2.3" fill="#333333"/>
<line x1="62.89" x2="62.89" y1="280.75" y2="300.62" stroke="#333333" stroke-width="1.0"/>
<line x1="62.89" x2="62.89" y1="313.88" y2="327.12" stroke="#333333" stroke-width="1.0"/>
<rect x="56.12" y="300.62" width="13.54" height="13.25" fill="#fff" stroke="#333333" stroke-width="1.0"/>
<line x1="56.12" x2="69.66" y1="307.25" y2="307.25" stroke="#333333" stroke-width="2.0"/>
<circle cx="62.89" cy="340.38" r="2.3" fill="#333333"/>
<line x1="80.94" x2="80.94" y1="280.75" y2="294" stroke="#333333" stroke-width="1.0"/>
<line x1="80.94" x2="80.94" y1="313.88" y2="333.75" stroke="#333333" stroke-width="1.0"/>
<rect x="74.17" y="294" width="13.54" height="19.88" fill="#fff" stroke="#333333" stroke-width="1.0"/>
<line x1="74.17" x2="87.72" y1="307.25" y2="307.25" stroke="#333333" stroke-width="2.0"/>
<line x1="99" x2="99" y1="274.12" y2="294" stroke="#333333" stroke-width="1.0"/>
<line x1="99" x2="99" y1="308.84" y2="327.12" stroke="#333333" stroke-width="1.0"/>
<rect x="92.23" y="294" width="13.54" height="14.84" fill="#fff" stroke="#333333" stroke-width="1.0"/>
<line x1="92.23" x2="105.77" y1="307.25" y2="307.25" stroke="#333333" stroke-width="2.0"/>
<circle cx="99" cy="333.75" r="2.3" fill="#333333"/>
<line x1="117.06" x2="117.06" y1="274.12" y2="294" stroke="#333333" stroke-width="1.0"/>
<line x1="117.06" x2="117.06" y1="313.88" y2="333.75" stroke="#333333" stroke-width="1.0"/>
<rect x="110.28" y="294" width="13.54" height="19.88" fill="#fff" stroke="#333333" stroke-width="1.0"/>
<line x1="110.28" x2="123.83" y1="300.62" y2="300.62" stroke="#333333" stroke-width="2.0"/>
<line x1="135.11" x2="135.11" y1="287.38" y2="300.62" stroke="#333333" stroke-width="1.0"/>
<line x1="135.11" x2="135.11" y1="313.88" y2="333.75" stroke="#333333" stroke-width="1.0"/>
<rect x="128.34" y="300.62" width="13.54" height="13.25" fill="#fff" stroke="#333333" stroke-width="1.0"/>
<line x1="128.34" x2="141.88" y1="307.25" y2="307.25" stroke="#333333" stroke-width="2.0"/>
<circle cx="135.11" cy="274.12" r="2.3" fill="#333333"/>
<circle cx="135.11" cy="340.38" r="2.3" fill="#333333"/>
<line x1="153.17" x2="153.17" y1="280.75" y2="300.62" stroke="#333333" stroke-width="1.0"/>
<line x1="153.17" x2="153.17" y1="313.88" y2="327.12" stroke="#333333" stroke-width="1.0"/>
<rect x="146.4" y="300.62" width="13.54" height="13.25" fill="#fff" stroke="#333333" stroke-width="1.0"/>
<line x1="146.4" x2="159.94" y1="307.25" y2="307.25" stroke="#333333" stroke-width="2.0"/>
<circle cx="153.17" cy="274.12" r="2.3" fill="#333333"/>
<circle cx="153.17" cy="340.38" r="2.3" fill="#333333"/>
<text x="62.89" y="341.95" text-anchor="middle" class="pt">p = 0.107</text>
<text transform="translate(47.33,355.28) rotate(-90)" text-anchor="end" class="ax">Slanted0</text>
<text transform="translate(65.39,355.28) rotate(-90)" text-anchor="end" class="ax">Slanted0.10</text>
<text transform="translate(83.44,355.28) rotate(-90)" text-anchor="end" class="ax">Slanted0.50</text>
<text transform="translate(101.5,355.28) rotate(-90)" text-anchor="end" class="ax">Slanted0.80</text>
<text transform="translate(119.56,355.28) rotate(-90)" text-anchor="end" class="ax">Slanted1</text>
<text transform="translate(137.61,355.28) rotate(-90)" text-anchor="end" class="ax">RF_conv</text>
<text transform="translate(155.67,355.28) rotate(-90)" text-anchor="end" class="ax">lasso</text>
<text transform="translate(8.5,307.25) rotate(-90)" text-anchor="middle" class="yt">Accuracy</text>
<text x="34.4" y="253.32" class="tt b">Hard</text>
<path d="M68.74,248.92 Q69.54,247.62 70.64,248.32 M70.64,248.12 L70.64,253.32 M70.64,249.42 C71.24,247.82 73.84,247.32 73.84,249.72 L73.84,255.72" fill="none" stroke="#1a1a1a" stroke-width="1.05"/>
<text x="78.24" y="253.32" class="tt">=</text>
<text x="88.74" y="253.32" class="tt">10</text>
<text x="101.59" y="247.32" class="tt sup">−5</text>
<rect x="207.3" y="263.52" width="130.1" height="87.45" fill="#EBEBEB"/>
<line x1="207.3" x2="337.4" y1="337.06" y2="337.06" stroke="#fff" stroke-width="0.55"/>
<line x1="207.3" x2="337.4" y1="317.19" y2="317.19" stroke="#fff" stroke-width="0.55"/>
<line x1="207.3" x2="337.4" y1="297.31" y2="297.31" stroke="#fff" stroke-width="0.55"/>
<line x1="207.3" x2="337.4" y1="277.44" y2="277.44" stroke="#fff" stroke-width="0.55"/>
<line x1="207.3" x2="337.4" y1="347" y2="347" stroke="#fff" stroke-width="1.1"/>
<line x1="207.3" x2="337.4" y1="327.12" y2="327.12" stroke="#fff" stroke-width="1.1"/>
<line x1="207.3" x2="337.4" y1="307.25" y2="307.25" stroke="#fff" stroke-width="1.1"/>
<line x1="207.3" x2="337.4" y1="287.38" y2="287.38" stroke="#fff" stroke-width="1.1"/>
<line x1="207.3" x2="337.4" y1="267.5" y2="267.5" stroke="#fff" stroke-width="1.1"/>
<line x1="218.14" x2="218.14" y1="263.52" y2="350.98" stroke="#fff" stroke-width="1.1"/>
<line x1="236.21" x2="236.21" y1="263.52" y2="350.98" stroke="#fff" stroke-width="1.1"/>
<line x1="254.28" x2="254.28" y1="263.52" y2="350.98" stroke="#fff" stroke-width="1.1"/>
<line x1="272.35" x2="272.35" y1="263.52" y2="350.98" stroke="#fff" stroke-width="1.1"/>
<line x1="290.42" x2="290.42" y1="263.52" y2="350.98" stroke="#fff" stroke-width="1.1"/>
<line x1="308.49" x2="308.49" y1="263.52" y2="350.98" stroke="#fff" stroke-width="1.1"/>
<line x1="326.56" x2="326.56" y1="263.52" y2="350.98" stroke="#fff" stroke-width="1.1"/>
<line x1="204.6" x2="207.3" y1="347" y2="347" stroke="#333333" stroke-width="1"/>
<text x="202.7" y="350.2" text-anchor="end" class="ax">0.00</text>
<line x1="204.6" x2="207.3" y1="327.12" y2="327.12" stroke="#333333" stroke-width="1"/>
<text x="202.7" y="330.32" text-anchor="end" class="ax">0.25</text>
<line x1="204.6" x2="207.3" y1="307.25" y2="307.25" stroke="#333333" stroke-width="1"/>
<text x="202.7" y="310.45" text-anchor="end" class="ax">0.50</text>
<line x1="204.6" x2="207.3" y1="287.38" y2="287.38" stroke="#333333" stroke-width="1"/>
<text x="202.7" y="290.57" text-anchor="end" class="ax">0.75</text>
<line x1="204.6" x2="207.3" y1="267.5" y2="267.5" stroke="#333333" stroke-width="1"/>
<text x="202.7" y="270.7" text-anchor="end" class="ax">1.00</text>
<line x1="218.14" x2="218.14" y1="350.98" y2="353.68" stroke="#333333" stroke-width="1"/>
<line x1="236.21" x2="236.21" y1="350.98" y2="353.68" stroke="#333333" stroke-width="1"/>
<line x1="254.28" x2="254.28" y1="350.98" y2="353.68" stroke="#333333" stroke-width="1"/>
<line x1="272.35" x2="272.35" y1="350.98" y2="353.68" stroke="#333333" stroke-width="1"/>
<line x1="290.42" x2="290.42" y1="350.98" y2="353.68" stroke="#333333" stroke-width="1"/>
<line x1="308.49" x2="308.49" y1="350.98" y2="353.68" stroke="#333333" stroke-width="1"/>
<line x1="326.56" x2="326.56" y1="350.98" y2="353.68" stroke="#333333" stroke-width="1"/>
<line x1="218.14" x2="218.14" y1="280.75" y2="299.3" stroke="#333333" stroke-width="1.0"/>
<line x1="218.14" x2="218.14" y1="313.88" y2="327.12" stroke="#333333" stroke-width="1.0"/>
<rect x="211.37" y="299.3" width="13.55" height="14.57" fill="#fff" stroke="#333333" stroke-width="1.0"/>
<line x1="211.37" x2="224.92" y1="307.25" y2="307.25" stroke="#333333" stroke-width="2.0"/>
<circle cx="218.14" cy="340.38" r="2.3" fill="#333333"/>
<line x1="236.21" x2="236.21" y1="274.12" y2="294" stroke="#333333" stroke-width="1.0"/>
<line x1="236.21" x2="236.21" y1="313.88" y2="340.38" stroke="#333333" stroke-width="1.0"/>
<rect x="229.44" y="294" width="13.55" height="19.88" fill="#fff" stroke="#333333" stroke-width="1.0"/>
<line x1="229.44" x2="242.99" y1="307.25" y2="307.25" stroke="#333333" stroke-width="2.0"/>
<line x1="254.28" x2="254.28" y1="280.75" y2="294" stroke="#333333" stroke-width="1.0"/>
<line x1="254.28" x2="254.28" y1="313.88" y2="340.38" stroke="#333333" stroke-width="1.0"/>
<rect x="247.5" y="294" width="13.55" height="19.88" fill="#fff" stroke="#333333" stroke-width="1.0"/>
<line x1="247.5" x2="261.06" y1="300.62" y2="300.62" stroke="#333333" stroke-width="2.0"/>
<line x1="272.35" x2="272.35" y1="274.12" y2="294" stroke="#333333" stroke-width="1.0"/>
<line x1="272.35" x2="272.35" y1="313.88" y2="340.38" stroke="#333333" stroke-width="1.0"/>
<rect x="265.57" y="294" width="13.55" height="19.88" fill="#fff" stroke="#333333" stroke-width="1.0"/>
<line x1="265.57" x2="279.13" y1="300.62" y2="300.62" stroke="#333333" stroke-width="2.0"/>
<line x1="290.42" x2="290.42" y1="274.12" y2="294" stroke="#333333" stroke-width="1.0"/>
<line x1="290.42" x2="290.42" y1="313.88" y2="340.38" stroke="#333333" stroke-width="1.0"/>
<rect x="283.64" y="294" width="13.55" height="19.88" fill="#fff" stroke="#333333" stroke-width="1.0"/>
<line x1="283.64" x2="297.2" y1="303.94" y2="303.94" stroke="#333333" stroke-width="2.0"/>
<line x1="308.49" x2="308.49" y1="280.75" y2="300.62" stroke="#333333" stroke-width="1.0"/>
<line x1="308.49" x2="308.49" y1="313.88" y2="333.75" stroke="#333333" stroke-width="1.0"/>
<rect x="301.71" y="300.62" width="13.55" height="13.25" fill="#fff" stroke="#333333" stroke-width="1.0"/>
<line x1="301.71" x2="315.26" y1="307.25" y2="307.25" stroke="#333333" stroke-width="2.0"/>
<circle cx="308.49" cy="274.12" r="2.3" fill="#333333"/>
<circle cx="308.49" cy="340.38" r="2.3" fill="#333333"/>
<line x1="326.56" x2="326.56" y1="280.75" y2="300.62" stroke="#333333" stroke-width="1.0"/>
<line x1="326.56" x2="326.56" y1="313.88" y2="333.75" stroke="#333333" stroke-width="1.0"/>
<rect x="319.78" y="300.62" width="13.55" height="13.25" fill="#fff" stroke="#333333" stroke-width="1.0"/>
<line x1="319.78" x2="333.33" y1="307.25" y2="307.25" stroke="#333333" stroke-width="2.0"/>
<circle cx="326.56" cy="274.12" r="2.3" fill="#333333"/>
<text x="236.21" y="341.95" text-anchor="middle" class="pt">p = 0.29</text>
<text transform="translate(220.64,355.28) rotate(-90)" text-anchor="end" class="ax">Slanted0</text>
<text transform="translate(238.71,355.28) rotate(-90)" text-anchor="end" class="ax">Slanted0.10</text>
<text transform="translate(256.78,355.28) rotate(-90)" text-anchor="end" class="ax">Slanted0.50</text>
<text transform="translate(274.85,355.28) rotate(-90)" text-anchor="end" class="ax">Slanted0.80</text>
<text transform="translate(292.92,355.28) rotate(-90)" text-anchor="end" class="ax">Slanted1</text>
<text transform="translate(310.99,355.28) rotate(-90)" text-anchor="end" class="ax">RF_conv</text>
<text transform="translate(329.06,355.28) rotate(-90)" text-anchor="end" class="ax">lasso</text>
<path d="M207.70,248.92 Q208.50,247.62 209.60,248.32 M209.60,248.12 L209.60,253.32 M209.60,249.42 C210.20,247.82 212.80,247.32 212.80,249.72 L212.80,255.72" fill="none" stroke="#1a1a1a" stroke-width="1.05"/>
<text x="217.2" y="253.32" class="tt">=</text>
<text x="227.7" y="253.32" class="tt">10</text>
<text x="240.55" y="247.32" class="tt sup">−4</text>
<rect x="380.7" y="260.38" width="130.1" height="90.75" fill="#EBEBEB"/>
<line x1="380.7" x2="510.8" y1="336.69" y2="336.69" stroke="#fff" stroke-width="0.55"/>
<line x1="380.7" x2="510.8" y1="316.06" y2="316.06" stroke="#fff" stroke-width="0.55"/>
<line x1="380.7" x2="510.8" y1="295.44" y2="295.44" stroke="#fff" stroke-width="0.55"/>
<line x1="380.7" x2="510.8" y1="274.81" y2="274.81" stroke="#fff" stroke-width="0.55"/>
<line x1="380.7" x2="510.8" y1="347" y2="347" stroke="#fff" stroke-width="1.1"/>
<line x1="380.7" x2="510.8" y1="326.38" y2="326.38" stroke="#fff" stroke-width="1.1"/>
<line x1="380.7" x2="510.8" y1="305.75" y2="305.75" stroke="#fff" stroke-width="1.1"/>
<line x1="380.7" x2="510.8" y1="285.12" y2="285.12" stroke="#fff" stroke-width="1.1"/>
<line x1="380.7" x2="510.8" y1="264.5" y2="264.5" stroke="#fff" stroke-width="1.1"/>
<line x1="391.54" x2="391.54" y1="260.38" y2="351.12" stroke="#fff" stroke-width="1.1"/>
<line x1="409.61" x2="409.61" y1="260.38" y2="351.12" stroke="#fff" stroke-width="1.1"/>
<line x1="427.68" x2="427.68" y1="260.38" y2="351.12" stroke="#fff" stroke-width="1.1"/>
<line x1="445.75" x2="445.75" y1="260.38" y2="351.12" stroke="#fff" stroke-width="1.1"/>
<line x1="463.82" x2="463.82" y1="260.38" y2="351.12" stroke="#fff" stroke-width="1.1"/>
<line x1="481.89" x2="481.89" y1="260.38" y2="351.12" stroke="#fff" stroke-width="1.1"/>
<line x1="499.96" x2="499.96" y1="260.38" y2="351.12" stroke="#fff" stroke-width="1.1"/>
<line x1="378" x2="380.7" y1="347" y2="347" stroke="#333333" stroke-width="1"/>
<text x="376.1" y="350.2" text-anchor="end" class="ax">0.00</text>
<line x1="378" x2="380.7" y1="326.38" y2="326.38" stroke="#333333" stroke-width="1"/>
<text x="376.1" y="329.57" text-anchor="end" class="ax">0.25</text>
<line x1="378" x2="380.7" y1="305.75" y2="305.75" stroke="#333333" stroke-width="1"/>
<text x="376.1" y="308.95" text-anchor="end" class="ax">0.50</text>
<line x1="378" x2="380.7" y1="285.12" y2="285.12" stroke="#333333" stroke-width="1"/>
<text x="376.1" y="288.32" text-anchor="end" class="ax">0.75</text>
<line x1="378" x2="380.7" y1="264.5" y2="264.5" stroke="#333333" stroke-width="1"/>
<text x="376.1" y="267.7" text-anchor="end" class="ax">1.00</text>
<line x1="391.54" x2="391.54" y1="351.12" y2="353.82" stroke="#333333" stroke-width="1"/>
<line x1="409.61" x2="409.61" y1="351.12" y2="353.82" stroke="#333333" stroke-width="1"/>
<line x1="427.68" x2="427.68" y1="351.12" y2="353.82" stroke="#333333" stroke-width="1"/>
<line x1="445.75" x2="445.75" y1="351.12" y2="353.82" stroke="#333333" stroke-width="1"/>
<line x1="463.82" x2="463.82" y1="351.12" y2="353.82" stroke="#333333" stroke-width="1"/>
<line x1="481.89" x2="481.89" y1="351.12" y2="353.82" stroke="#333333" stroke-width="1"/>
<line x1="499.96" x2="499.96" y1="351.12" y2="353.82" stroke="#333333" stroke-width="1"/>
<line x1="391.54" x2="391.54" y1="278.25" y2="292" stroke="#333333" stroke-width="1.0"/>
<line x1="391.54" x2="391.54" y1="305.75" y2="319.5" stroke="#333333" stroke-width="1.0"/>
<rect x="384.77" y="292" width="13.55" height="13.75" fill="#fff" stroke="#333333" stroke-width="1.0"/>
<line x1="384.77" x2="398.32" y1="298.88" y2="298.88" stroke="#333333" stroke-width="2.0"/>
<circle cx="391.54" cy="264.5" r="2.3" fill="#333333"/>
<circle cx="391.54" cy="271.38" r="2.3" fill="#333333"/>
<circle cx="391.54" cy="326.38" r="2.3" fill="#333333"/>
<circle cx="391.54" cy="333.25" r="2.3" fill="#333333"/>
<line x1="409.61" x2="409.61" y1="264.5" y2="292" stroke="#333333" stroke-width="1.0"/>
<line x1="409.61" x2="409.61" y1="312.62" y2="333.25" stroke="#333333" stroke-width="1.0"/>
<rect x="402.84" y="292" width="13.55" height="20.62" fill="#fff" stroke="#333333" stroke-width="1.0"/>
<line x1="402.84" x2="416.39" y1="298.88" y2="298.88" stroke="#333333" stroke-width="2.0"/>
<line x1="427.68" x2="427.68" y1="278.25" y2="292" stroke="#333333" stroke-width="1.0"/>
<line x1="427.68" x2="427.68" y1="305.75" y2="319.5" stroke="#333333" stroke-width="1.0"/>
<rect x="420.9" y="292" width="13.55" height="13.75" fill="#fff" stroke="#333333" stroke-width="1.0"/>
<line x1="420.9" x2="434.46" y1="298.88" y2="298.88" stroke="#333333" stroke-width="2.0"/>
<circle cx="427.68" cy="264.5" r="2.3" fill="#333333"/>
<circle cx="427.68" cy="271.38" r="2.3" fill="#333333"/>
<circle cx="427.68" cy="333.25" r="2.3" fill="#333333"/>
<line x1="445.75" x2="445.75" y1="278.25" y2="292" stroke="#333333" stroke-width="1.0"/>
<line x1="445.75" x2="445.75" y1="305.75" y2="319.5" stroke="#333333" stroke-width="1.0"/>
<rect x="438.97" y="292" width="13.55" height="13.75" fill="#fff" stroke="#333333" stroke-width="1.0"/>
<line x1="438.97" x2="452.53" y1="298.88" y2="298.88" stroke="#333333" stroke-width="2.0"/>
<circle cx="445.75" cy="264.5" r="2.3" fill="#333333"/>
<circle cx="445.75" cy="271.38" r="2.3" fill="#333333"/>
<circle cx="445.75" cy="326.38" r="2.3" fill="#333333"/>
<line x1="463.82" x2="463.82" y1="278.25" y2="292" stroke="#333333" stroke-width="1.0"/>
<line x1="463.82" x2="463.82" y1="305.75" y2="319.5" stroke="#333333" stroke-width="1.0"/>
<rect x="457.04" y="292" width="13.55" height="13.75" fill="#fff" stroke="#333333" stroke-width="1.0"/>
<line x1="457.04" x2="470.6" y1="298.88" y2="298.88" stroke="#333333" stroke-width="2.0"/>
<circle cx="463.82" cy="271.38" r="2.3" fill="#333333"/>
<circle cx="463.82" cy="326.38" r="2.3" fill="#333333"/>
<circle cx="463.82" cy="333.25" r="2.3" fill="#333333"/>
<line x1="481.89" x2="481.89" y1="278.25" y2="292" stroke="#333333" stroke-width="1.0"/>
<line x1="481.89" x2="481.89" y1="305.75" y2="319.5" stroke="#333333" stroke-width="1.0"/>
<rect x="475.11" y="292" width="13.55" height="13.75" fill="#fff" stroke="#333333" stroke-width="1.0"/>
<line x1="475.11" x2="488.66" y1="298.88" y2="298.88" stroke="#333333" stroke-width="2.0"/>
<circle cx="481.89" cy="264.5" r="2.3" fill="#333333"/>
<circle cx="481.89" cy="271.38" r="2.3" fill="#333333"/>
<circle cx="481.89" cy="326.38" r="2.3" fill="#333333"/>
<circle cx="481.89" cy="333.25" r="2.3" fill="#333333"/>
<line x1="499.96" x2="499.96" y1="278.25" y2="298.88" stroke="#333333" stroke-width="1.0"/>
<line x1="499.96" x2="499.96" y1="312.62" y2="333.25" stroke="#333333" stroke-width="1.0"/>
<rect x="493.18" y="298.88" width="13.55" height="13.75" fill="#fff" stroke="#333333" stroke-width="1.0"/>
<line x1="493.18" x2="506.73" y1="302.31" y2="302.31" stroke="#333333" stroke-width="2.0"/>
<text x="409.61" y="341.65" text-anchor="middle" class="pt">p = 0.0284</text>
<text transform="translate(394.04,355.43) rotate(-90)" text-anchor="end" class="ax">Slanted0</text>
<text transform="translate(412.11,355.43) rotate(-90)" text-anchor="end" class="ax">Slanted0.10</text>
<text transform="translate(430.18,355.43) rotate(-90)" text-anchor="end" class="ax">Slanted0.50</text>
<text transform="translate(448.25,355.43) rotate(-90)" text-anchor="end" class="ax">Slanted0.80</text>
<text transform="translate(466.32,355.43) rotate(-90)" text-anchor="end" class="ax">Slanted1</text>
<text transform="translate(484.39,355.43) rotate(-90)" text-anchor="end" class="ax">RF_conv</text>
<text transform="translate(502.46,355.43) rotate(-90)" text-anchor="end" class="ax">lasso</text>
<path d="M381.10,245.78 Q381.90,244.48 383.00,245.18 M383.00,244.98 L383.00,250.18 M383.00,246.28 C383.60,244.68 386.20,244.18 386.20,246.58 L386.20,252.58" fill="none" stroke="#1a1a1a" stroke-width="1.05"/>
<text x="390.6" y="250.18" class="tt">=</text>
<text x="401.1" y="250.18" class="tt">0.02</text>
<rect x="554.1" y="260.38" width="130.5" height="90.75" fill="#EBEBEB"/>
<line x1="554.1" x2="684.6" y1="336.69" y2="336.69" stroke="#fff" stroke-width="0.55"/>
<line x1="554.1" x2="684.6" y1="316.06" y2="316.06" stroke="#fff" stroke-width="0.55"/>
<line x1="554.1" x2="684.6" y1="295.44" y2="295.44" stroke="#fff" stroke-width="0.55"/>
<line x1="554.1" x2="684.6" y1="274.81" y2="274.81" stroke="#fff" stroke-width="0.55"/>
<line x1="554.1" x2="684.6" y1="347" y2="347" stroke="#fff" stroke-width="1.1"/>
<line x1="554.1" x2="684.6" y1="326.38" y2="326.38" stroke="#fff" stroke-width="1.1"/>
<line x1="554.1" x2="684.6" y1="305.75" y2="305.75" stroke="#fff" stroke-width="1.1"/>
<line x1="554.1" x2="684.6" y1="285.12" y2="285.12" stroke="#fff" stroke-width="1.1"/>
<line x1="554.1" x2="684.6" y1="264.5" y2="264.5" stroke="#fff" stroke-width="1.1"/>
<line x1="564.98" x2="564.98" y1="260.38" y2="351.12" stroke="#fff" stroke-width="1.1"/>
<line x1="583.1" x2="583.1" y1="260.38" y2="351.12" stroke="#fff" stroke-width="1.1"/>
<line x1="601.23" x2="601.23" y1="260.38" y2="351.12" stroke="#fff" stroke-width="1.1"/>
<line x1="619.35" x2="619.35" y1="260.38" y2="351.12" stroke="#fff" stroke-width="1.1"/>
<line x1="637.48" x2="637.48" y1="260.38" y2="351.12" stroke="#fff" stroke-width="1.1"/>
<line x1="655.6" x2="655.6" y1="260.38" y2="351.12" stroke="#fff" stroke-width="1.1"/>
<line x1="673.73" x2="673.73" y1="260.38" y2="351.12" stroke="#fff" stroke-width="1.1"/>
<line x1="551.4" x2="554.1" y1="347" y2="347" stroke="#333333" stroke-width="1"/>
<text x="549.5" y="350.2" text-anchor="end" class="ax">0.00</text>
<line x1="551.4" x2="554.1" y1="326.38" y2="326.38" stroke="#333333" stroke-width="1"/>
<text x="549.5" y="329.57" text-anchor="end" class="ax">0.25</text>
<line x1="551.4" x2="554.1" y1="305.75" y2="305.75" stroke="#333333" stroke-width="1"/>
<text x="549.5" y="308.95" text-anchor="end" class="ax">0.50</text>
<line x1="551.4" x2="554.1" y1="285.12" y2="285.12" stroke="#333333" stroke-width="1"/>
<text x="549.5" y="288.32" text-anchor="end" class="ax">0.75</text>
<line x1="551.4" x2="554.1" y1="264.5" y2="264.5" stroke="#333333" stroke-width="1"/>
<text x="549.5" y="267.7" text-anchor="end" class="ax">1.00</text>
<line x1="564.98" x2="564.98" y1="351.12" y2="353.82" stroke="#333333" stroke-width="1"/>
<line x1="583.1" x2="583.1" y1="351.12" y2="353.82" stroke="#333333" stroke-width="1"/>
<line x1="601.23" x2="601.23" y1="351.12" y2="353.82" stroke="#333333" stroke-width="1"/>
<line x1="619.35" x2="619.35" y1="351.12" y2="353.82" stroke="#333333" stroke-width="1"/>
<line x1="637.48" x2="637.48" y1="351.12" y2="353.82" stroke="#333333" stroke-width="1"/>
<line x1="655.6" x2="655.6" y1="351.12" y2="353.82" stroke="#333333" stroke-width="1"/>
<line x1="673.73" x2="673.73" y1="351.12" y2="353.82" stroke="#333333" stroke-width="1"/>
<line x1="564.98" x2="564.98" y1="264.5" y2="285.12" stroke="#333333" stroke-width="1.0"/>
<line x1="564.98" x2="564.98" y1="305.75" y2="333.25" stroke="#333333" stroke-width="1.0"/>
<rect x="558.18" y="285.12" width="13.59" height="20.62" fill="#fff" stroke="#333333" stroke-width="1.0"/>
<line x1="558.18" x2="571.77" y1="292" y2="292" stroke="#333333" stroke-width="2.0"/>
<line x1="583.1" x2="583.1" y1="264.5" y2="285.12" stroke="#333333" stroke-width="1.0"/>
<line x1="583.1" x2="583.1" y1="305.75" y2="326.38" stroke="#333333" stroke-width="1.0"/>
<rect x="576.3" y="285.12" width="13.59" height="20.62" fill="#fff" stroke="#333333" stroke-width="1.0"/>
<line x1="576.3" x2="589.9" y1="292" y2="292" stroke="#333333" stroke-width="2.0"/>
<line x1="601.23" x2="601.23" y1="264.5" y2="285.12" stroke="#333333" stroke-width="1.0"/>
<line x1="601.23" x2="601.23" y1="305.75" y2="333.25" stroke="#333333" stroke-width="1.0"/>
<rect x="594.43" y="285.12" width="13.59" height="20.62" fill="#fff" stroke="#333333" stroke-width="1.0"/>
<line x1="594.43" x2="608.02" y1="292" y2="292" stroke="#333333" stroke-width="2.0"/>
<line x1="619.35" x2="619.35" y1="264.5" y2="285.12" stroke="#333333" stroke-width="1.0"/>
<line x1="619.35" x2="619.35" y1="305.75" y2="326.38" stroke="#333333" stroke-width="1.0"/>
<rect x="612.55" y="285.12" width="13.59" height="20.62" fill="#fff" stroke="#333333" stroke-width="1.0"/>
<line x1="612.55" x2="626.15" y1="292" y2="292" stroke="#333333" stroke-width="2.0"/>
<line x1="637.48" x2="637.48" y1="264.5" y2="285.12" stroke="#333333" stroke-width="1.0"/>
<line x1="637.48" x2="637.48" y1="305.75" y2="333.25" stroke="#333333" stroke-width="1.0"/>
<rect x="630.68" y="285.12" width="13.59" height="20.62" fill="#fff" stroke="#333333" stroke-width="1.0"/>
<line x1="630.68" x2="644.27" y1="292" y2="292" stroke="#333333" stroke-width="2.0"/>
<line x1="655.6" x2="655.6" y1="264.5" y2="285.12" stroke="#333333" stroke-width="1.0"/>
<line x1="655.6" x2="655.6" y1="305.75" y2="326.38" stroke="#333333" stroke-width="1.0"/>
<rect x="648.8" y="285.12" width="13.59" height="20.62" fill="#fff" stroke="#333333" stroke-width="1.0"/>
<line x1="648.8" x2="662.4" y1="292" y2="292" stroke="#333333" stroke-width="2.0"/>
<circle cx="655.6" cy="340.12" r="2.3" fill="#333333"/>
<line x1="673.73" x2="673.73" y1="271.38" y2="292" stroke="#333333" stroke-width="1.0"/>
<line x1="673.73" x2="673.73" y1="307.4" y2="326.38" stroke="#333333" stroke-width="1.0"/>
<rect x="666.93" y="292" width="13.59" height="15.4" fill="#fff" stroke="#333333" stroke-width="1.0"/>
<line x1="666.93" x2="680.52" y1="298.88" y2="298.88" stroke="#333333" stroke-width="2.0"/>
<circle cx="673.73" cy="264.5" r="2.3" fill="#333333"/>
<circle cx="673.73" cy="333.25" r="2.3" fill="#333333"/>
<text x="583.1" y="341.65" text-anchor="middle" class="pt">p = 0.000804</text>
<text transform="translate(567.48,355.43) rotate(-90)" text-anchor="end" class="ax">Slanted0</text>
<text transform="translate(585.6,355.43) rotate(-90)" text-anchor="end" class="ax">Slanted0.10</text>
<text transform="translate(603.73,355.43) rotate(-90)" text-anchor="end" class="ax">Slanted0.50</text>
<text transform="translate(621.85,355.43) rotate(-90)" text-anchor="end" class="ax">Slanted0.80</text>
<text transform="translate(639.98,355.43) rotate(-90)" text-anchor="end" class="ax">Slanted1</text>
<text transform="translate(658.1,355.43) rotate(-90)" text-anchor="end" class="ax">RF_conv</text>
<text transform="translate(676.23,355.43) rotate(-90)" text-anchor="end" class="ax">lasso</text>
<path d="M554.50,245.78 Q555.30,244.48 556.40,245.18 M556.40,244.98 L556.40,250.18 M556.40,246.28 C557.00,244.68 559.60,244.18 559.60,246.58 L559.60,252.58" fill="none" stroke="#1a1a1a" stroke-width="1.05"/>
<text x="564" y="250.18" class="tt">=</text>
<text x="574.5" y="250.18" class="tt">0.1</text>
</svg>
<div class="shade"></div>
</body></html>
